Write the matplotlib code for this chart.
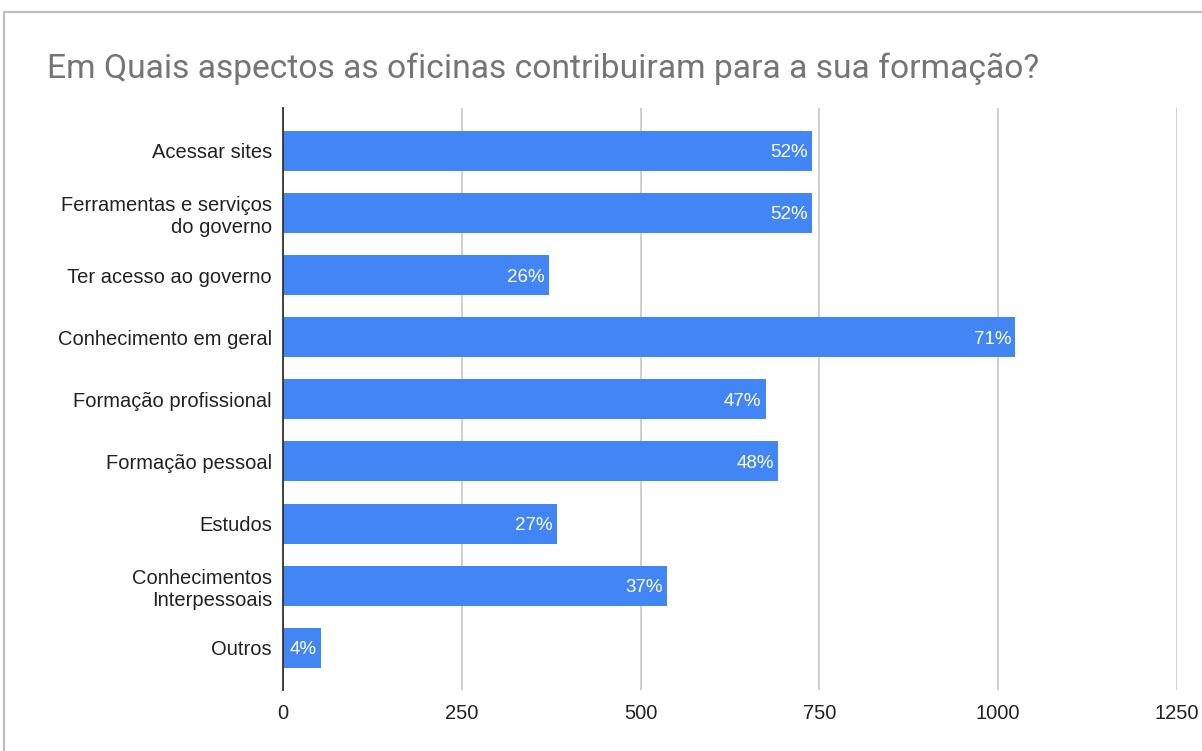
import numpy as np
import matplotlib
matplotlib.use("Agg")
from matplotlib import pyplot as plt
from matplotlib.patches import Rectangle

categorias = ['Acessar sites', 'Ferramentas e serviços\ndo governo', 'Ter acesso ao governo',
              'Conhecimento em geral', 'Formação profissional', 'Formação pessoal',
              'Estudos', 'Conhecimentos\nInterpessoais', 'Outros']
respostas = [740, 740, 372, 1024, 675, 692, 383, 537, 53]
rotulos = ['52%', '52%', '26%', '71%', '47%', '48%', '27%', '37%', '4%']
ticks_x = [0, 250, 500, 750, 1000, 1250]

fig = plt.figure(figsize=(12.02, 7.51), dpi=100)
ax = fig.add_axes([283/1202, 61/751, (1177-283)/1202, 582/751])

# moldura cinza do grafico (cortada a direita e embaixo)
fig.patches.append(Rectangle((4/1202, -0.1), 1.2, (751-12)/751 + 0.1, transform=fig.transFigure,
                             fill=False, edgecolor='#bdbdbd', linewidth=1.5))

y = np.arange(len(categorias))
bars = ax.barh(y, respostas, height=0.645, color='#4285f4', zorder=3)

for rect, txt in zip(bars, rotulos):
    ax.text(rect.get_width() - 6, rect.get_y() + rect.get_height()/2, txt,
            ha='right', va='center_baseline', color='white', fontsize=13.5,
            family='Liberation Sans', zorder=4)

ax.set_xlim(0, 1250)
ax.set_ylim(8.68, -0.69)
ax.set_xticks(ticks_x)
ax.set_xticklabels([str(t) for t in ticks_x], fontsize=14.5, family='Liberation Sans', color='#222222')
ax.set_yticks(y)
ax.set_yticklabels(categorias, fontsize=14.5, family='Liberation Sans', color='#222222')
ax.tick_params(length=0)
ax.tick_params(axis='y', pad=8)
ax.tick_params(axis='x', pad=10)
ax.grid(axis='x', color='#cccccc', linewidth=1.3, zorder=0)
for s in ['top', 'right', 'bottom']:
    ax.spines[s].set_visible(False)
ax.spines['left'].set_color('#333333')
ax.spines['left'].set_linewidth(1.3)
ax.spines['left'].set_zorder(5)

fig.text(47/1202, 1 - 69/751, 'Em Quais aspectos as oficinas contribuiram para a sua formação?',
         ha='left', va='center', fontsize=24.2, color='#757575', family='Roboto')

fig.savefig('out.png', dpi=100)
